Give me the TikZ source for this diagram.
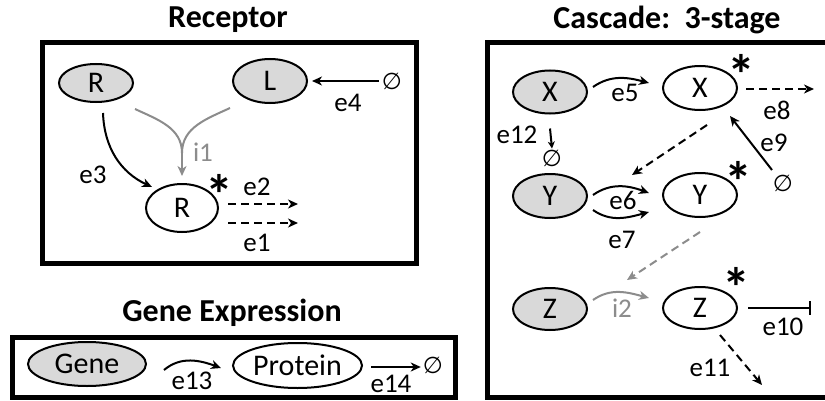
\documentclass[tikz,border=0pt]{standalone}
\usepackage{fontspec}
\setmainfont{Carlito}
\newfontfamily\symf{DejaVu Sans}
\usetikzlibrary{shapes.geometric,arrows.meta}
\tikzset{
  box/.style={draw, line width=5pt},
  ttl/.style={font=\fontsize{32}{34}\selectfont\bfseries, inner sep=0pt},
  gnode/.style={ellipse, draw, line width=2pt, fill=gray!30, inner sep=0pt, font=\fontsize{30}{32}\selectfont},
  wnode/.style={ellipse, draw, line width=2pt, fill=white, inner sep=0pt, font=\fontsize{30}{32}\selectfont},
  lbl/.style={font=\fontsize{27}{28}\selectfont, inner sep=0pt},
  glbl/.style={lbl, text=gray!90},
  arr/.style={line width=2pt, -{Stealth[length=10pt,width=9pt,inset=3pt]}},
  darr/.style={arr, dash pattern=on 8pt off 5pt},
  garr/.style={arr, draw=gray!90},
  gdarr/.style={darr, draw=gray!90},
  starmark/.style={font=\fontsize{56}{56}\selectfont\bfseries, inner sep=0pt},
  emptyset/.style={font=\symf\fontsize{23}{23}\selectfont, inner sep=0pt}
}
\begin{document}
\begin{tikzpicture}[x=1pt,y=1pt]
\clip (0,0) rectangle (825,400);
\fill[white] (0,0) rectangle (825,400);

% ---------- Receptor ----------
\node[ttl] (t1) at (228,380) {Receptor};
\draw[box] (42,137) rectangle (416,357);
\node[gnode, minimum width=74pt, minimum height=38pt] (Rg) at (96,317) {R};
\node[gnode, minimum width=74pt, minimum height=44pt] (L) at (270,319) {L};
\node[wnode, minimum width=72pt, minimum height=48pt] (Rw) at (182,192) {R};
\node[starmark] (s1) at (219,206) {*};
\node[emptyset] (eL) at (392,319) {∅};
\draw[arr, shorten <=3pt, shorten >=4pt] (eL) -- (L);
\node[lbl] (le4) at (348,297) {e4};
\draw[arr] ([shift={(7,-10)}]Rg.south) to[out=-88,in=155] ([shift={(-30,21)}]Rw.center);
\node[lbl] (le3) at (93,225) {e3};
\coordinate (i1tip) at ([yshift=7pt]Rw.north);
\coordinate (i1m) at ([yshift=30pt]Rw.north);
\draw[gray!90, line width=2pt] ([shift={(39,-26)}]Rg.center) to[out=-25,in=90] (i1m);
\draw[gray!90, line width=2pt] ([shift={(-40,-27)}]L.center) to[out=-155,in=90] (i1m);
\draw[garr] (i1m) -- (i1tip);
\node[glbl] (li1) at (203,248) {i1};
\draw[darr] ([shift={(9,4)}]Rw.east) -- ([shift={(79,4)}]Rw.east);
\draw[darr] ([shift={(9,-15)}]Rw.east) -- ([shift={(79,-15)}]Rw.east);
\node[lbl] (le2) at (257,213) {e2};
\node[lbl] (le1) at (257,157) {e1};

% ---------- Gene Expression ----------
\node[ttl] (t2) at (232,87) {Gene Expression};
\draw[box] (12,3) rectangle (455,63);
\node[gnode, minimum width=118pt, minimum height=44pt] (Gene) at (87,36) {Gene};
\node[wnode, minimum width=129pt, minimum height=45pt] (Prot) at (297.5,34.5) {Protein};
\draw[arr] ([shift={(17,-6)}]Gene.east) to[out=40,in=160] ([shift={(-11,-2.5)}]Prot.west);
\node[lbl] (le13) at (192,19) {e13};
\node[emptyset] (eP) at (433,35) {∅};
\draw[arr] ([shift={(8,-1.5)}]Prot.east) -- ([shift={(-2,-2)}]eP.west);
\node[lbl] (le14) at (391,16) {e14};

% ---------- Cascade ----------
\node[ttl] (t3) at (667,380) {Cascade:\ \ 3-stage};
\draw[box] (487,3) rectangle (840,357);
\node[gnode, minimum width=74pt, minimum height=43pt] (Xg) at (550,308) {X};
\node[wnode, minimum width=74pt, minimum height=44pt] (Xw) at (700,312) {X};
\node[gnode, minimum width=74pt, minimum height=44pt] (Yg) at (550,204) {Y};
\node[wnode, minimum width=74pt, minimum height=44pt] (Yw) at (700,205) {Y};
\node[gnode, minimum width=74pt, minimum height=42pt] (Zg) at (550,91) {Z};
\node[wnode, minimum width=74pt, minimum height=42pt] (Zw) at (700,92) {Z};
\node[starmark] (s2) at (741,326) {*};
\node[starmark] (s3) at (738,219) {*};
\node[starmark] (s4) at (736,113) {*};

\draw[arr] ([shift={(5,5)}]Xg.east) to[out=35,in=165] ([shift={(-13,5)}]Xw.west);
\node[lbl] (le5) at (625,307) {e5};
\draw[darr] ([shift={(8,-1)}]Xw.east) -- ([shift={(76,-1)}]Xw.east);
\node[lbl] (le8) at (777,290) {e8};
\node[emptyset] (e9s) at (783,217) {∅};
\draw[arr] ([shift={(-11,13)}]e9s.center) -- ([shift={(30,-28)}]Xw.center);
\node[lbl] (le9) at (774,257) {e9};
\node[emptyset] (e12s) at (552,242) {∅};
\draw[line width=2pt, -{Stealth[length=7pt,width=7pt,inset=2pt]}] ([yshift=-14pt]Xg.south) -- ([yshift=1pt]e12s.north);
\node[lbl] (le12) at (517,265) {e12};
\draw[darr] ([shift={(7,-37)}]Xw.center) -- ([shift={(-68,20)}]Yw.center);

\draw[arr] ([shift={(5,1)}]Yg.east) to[out=35,in=160] ([shift={(-13,2)}]Yw.west);
\node[lbl] (le6) at (623,200) {e6};
\draw[arr] ([shift={(5,-14)}]Yg.east) to[out=-35,in=-165] ([shift={(-13,-17)}]Yw.west);
\node[lbl] (le7) at (622,160) {e7};
\draw[gdarr] ([shift={(0,-37)}]Yw.center) -- ([shift={(77,29)}]Zg.center);

\draw[garr] ([shift={(5,9)}]Zg.east) to[out=35,in=165] ([shift={(-13,10)}]Zw.west);
\node[glbl] (li2) at (622,92) {i2};
\draw[line width=2pt, -{Bar[width=14pt,line width=2pt]}] ([shift={(10,0)}]Zw.east) -- ([shift={(73,0)}]Zw.east);
\node[lbl] (le10) at (783,73) {e10};
\draw[darr] ([shift={(20,-27)}]Zw.center) -- ([shift={(62,-77)}]Zw.center);
\node[lbl] (le11) at (710,32) {e11};
\end{tikzpicture}
\end{document}
